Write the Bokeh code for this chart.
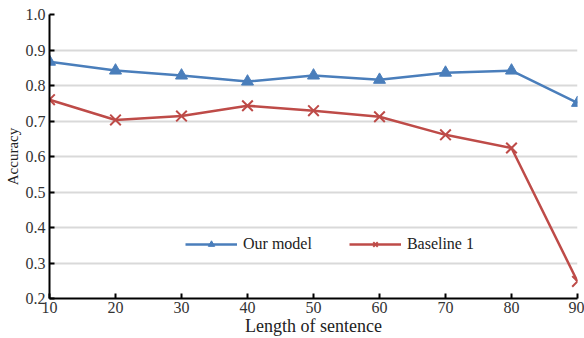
from bokeh.plotting import figure
from bokeh.models import Range1d, Legend, LegendItem, FixedTicker, CustomJSTickFormatter
from bokeh.embed import file_html
from bokeh.resources import INLINE

lengths = [10, 20, 30, 40, 50, 60, 70, 80, 90]
our_model = [0.867, 0.842, 0.828, 0.811, 0.828, 0.816, 0.836, 0.842, 0.751]
baseline1 = [0.760, 0.703, 0.714, 0.743, 0.729, 0.712, 0.661, 0.624, 0.248]
y_ticks = [0.2, 0.3, 0.4, 0.5, 0.6, 0.7, 0.8, 0.9, 1.0]
x_ticks = [10, 20, 30, 40, 50, 60, 70, 80, 90]

FONT = "'Liberation Serif', serif"
BLUE = "#4a7ebb"
RED = "#be4b48"

p = figure(width=584, height=338, output_backend="svg", toolbar_location=None,
           x_range=Range1d(10, 90), y_range=Range1d(0.2, 1.0),
           min_border_left=49, min_border_right=7, min_border_top=14, min_border_bottom=8)
p.outline_line_color = None
p.background_fill_color = "white"

l1 = p.line(lengths, our_model, line_color=BLUE, line_width=2.5)
m1 = p.scatter(lengths, our_model, marker="triangle", size=12, fill_color=BLUE, line_color=BLUE)
l2 = p.line(lengths, baseline1, line_color=RED, line_width=2.5)
m2 = p.scatter(lengths, baseline1, marker="x", size=15, line_color=RED, line_width=2)

for ax in (p.xaxis[0], p.yaxis[0]):
    ax.axis_line_color = "black"
    ax.axis_line_width = 2
    ax.major_tick_line_color = "black"
    ax.major_tick_line_width = 2
    ax.major_tick_in = 5
    ax.major_tick_out = 0
    ax.minor_tick_line_color = None
    ax.major_label_text_font = FONT
    ax.major_label_text_font_size = "16px"
    ax.major_label_text_color = "#333333"
    ax.axis_label_text_font = FONT
    ax.axis_label_text_font_style = "normal"
    ax.axis_label_text_color = "#222222"

p.xaxis.ticker = FixedTicker(ticks=x_ticks)
p.yaxis.ticker = FixedTicker(ticks=y_ticks)
p.yaxis.formatter = CustomJSTickFormatter(code="return tick.toFixed(1);")
p.xaxis.axis_label = "Length of sentence"
p.xaxis.axis_label_text_font_size = "18px"
p.xaxis.axis_label_standoff = 0
p.xaxis.major_label_standoff = 3
p.yaxis.axis_label = "Accuracy"
p.yaxis.axis_label_text_font_size = "15px"
p.yaxis.axis_label_standoff = 2
p.yaxis.major_label_standoff = 4

p.xgrid.grid_line_color = None
p.ygrid.grid_line_color = "#d9d9d9"
p.ygrid.grid_line_width = 2

legend = Legend(items=[LegendItem(label="Our model", renderers=[l1, m1]),
                       LegendItem(label="Baseline 1", renderers=[l2, m2])],
                orientation="horizontal", location=(136, 45),
                border_line_color=None, background_fill_alpha=0,
                label_text_font=FONT, label_text_font_size="16px",
                label_text_color="#222222", glyph_width=52, glyph_height=16,
                spacing=37, padding=2, label_standoff=6)
p.add_layout(legend, "center")

open("out.html", "w").write(file_html(p, INLINE))
